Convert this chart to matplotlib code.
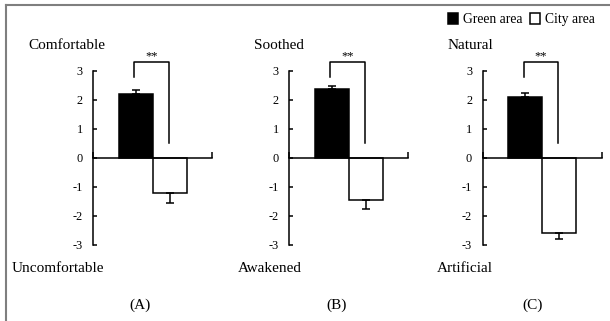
import matplotlib
matplotlib.use('Agg')
import matplotlib.pyplot as plt
from matplotlib.lines import Line2D
from matplotlib.patches import Patch

# data
panels = ['(A)', '(B)', '(C)']
top_labels = ['Comfortable', 'Soothed', 'Natural']
bottom_labels = ['Uncomfortable', 'Awakened', 'Artificial']
green_mean = [2.20, 2.36, 2.09]
green_err = [0.12, 0.12, 0.13]
city_mean = [-1.22, -1.44, -2.59]
city_err = [0.32, 0.33, 0.20]
yticks = [-3, -2, -1, 0, 1, 2, 3]
series_names = ['Green area', 'City area']

W, H = 610, 321
plt.rcParams['font.family'] = 'Liberation Serif'


def fx(px):
    return px / W


def fy(py):
    return 1 - py / H


def main():
    fig = plt.figure(figsize=(W / 100, H / 100), dpi=100)

    axis_x = [93.3, 289.3, 482.5]
    ax_w = 119
    y_top, y_bot = 70.7, 245.0
    bw = 0.285

    for i in range(3):
        ax = fig.add_axes([fx(axis_x[i]), fy(y_bot), ax_w / W, (y_bot - y_top) / H])
        ax.set_xlim(0, 1)
        ax.set_ylim(-3, 3)
        xs = [0.5 - bw / 2, 0.5 + bw / 2]
        ax.bar(xs[0], green_mean[i], width=bw, color='black', edgecolor='black', linewidth=1.1)
        ax.bar(xs[1], city_mean[i], width=bw, color='white', edgecolor='black', linewidth=1.1)
        ax.errorbar(xs[0], green_mean[i], yerr=[[0], [green_err[i]]], fmt='none',
                    ecolor='black', elinewidth=1.1, capsize=3, capthick=1.1)
        ax.errorbar(xs[1], city_mean[i], yerr=[[city_err[i]], [0]], fmt='none',
                    ecolor='black', elinewidth=1.1, capsize=3, capthick=1.1)

        for s in ['top', 'right']:
            ax.spines[s].set_visible(False)
        ax.spines['bottom'].set_position(('data', 0))
        for s in ['left', 'bottom']:
            ax.spines[s].set_linewidth(1.1)
        ax.set_yticks(yticks)
        ax.set_yticklabels([str(t) for t in yticks], fontsize=8.8)
        ax.tick_params(axis='y', direction='in', length=3, width=1.1, pad=7.5)
        ax.set_xticks([0, 1])
        ax.set_xticklabels([])
        ax.tick_params(axis='x', direction='in', length=4, width=1.1)

        # significance bracket
        bx = [0.345, 0.345, 0.632, 0.632]
        by = [2.8, 3.3, 3.3, 0.5]
        ax.plot(bx, by, color='black', lw=1.1, clip_on=False)
        ax.text((bx[0] + bx[2]) / 2, 3.3, '**', ha='center', va='bottom', fontsize=9)

        ax.set_facecolor('none')

    # side labels
    top_x = [28.3, 254, 448]
    bot_x = [12, 237.7, 436.7]
    pan_x = [140, 337, 533]
    for i in range(3):
        fig.text(fx(top_x[i]), fy(45.5), top_labels[i], ha='left', va='center', fontsize=11)
        fig.text(fx(bot_x[i]), fy(268), bottom_labels[i], ha='left', va='center', fontsize=11)
        fig.text(fx(pan_x[i]), fy(305), panels[i], ha='center', va='center', fontsize=11)

    handles = [Patch(facecolor='black', edgecolor='black', linewidth=1.1),
               Patch(facecolor='white', edgecolor='black', linewidth=1.1)]
    fig.legend(handles, series_names, loc='center right', bbox_to_anchor=(fx(595), fy(19.5)),
               ncol=2, frameon=False, fontsize=9.8, handlelength=0.75, handleheight=0.95,
               handletextpad=0.35, columnspacing=0.55, borderpad=0, borderaxespad=0)

    # outer frame (only top and left edges visible)
    fig.add_artist(Line2D([fx(6), 1], [fy(5), fy(5)], color='#7f7f7f', lw=1.5,
                          transform=fig.transFigure))
    fig.add_artist(Line2D([fx(6), fx(6)], [fy(5), 0], color='#7f7f7f', lw=1.5,
                          transform=fig.transFigure))

    fig.savefig('out.png', dpi=100)


if __name__ == '__main__':
    main()
